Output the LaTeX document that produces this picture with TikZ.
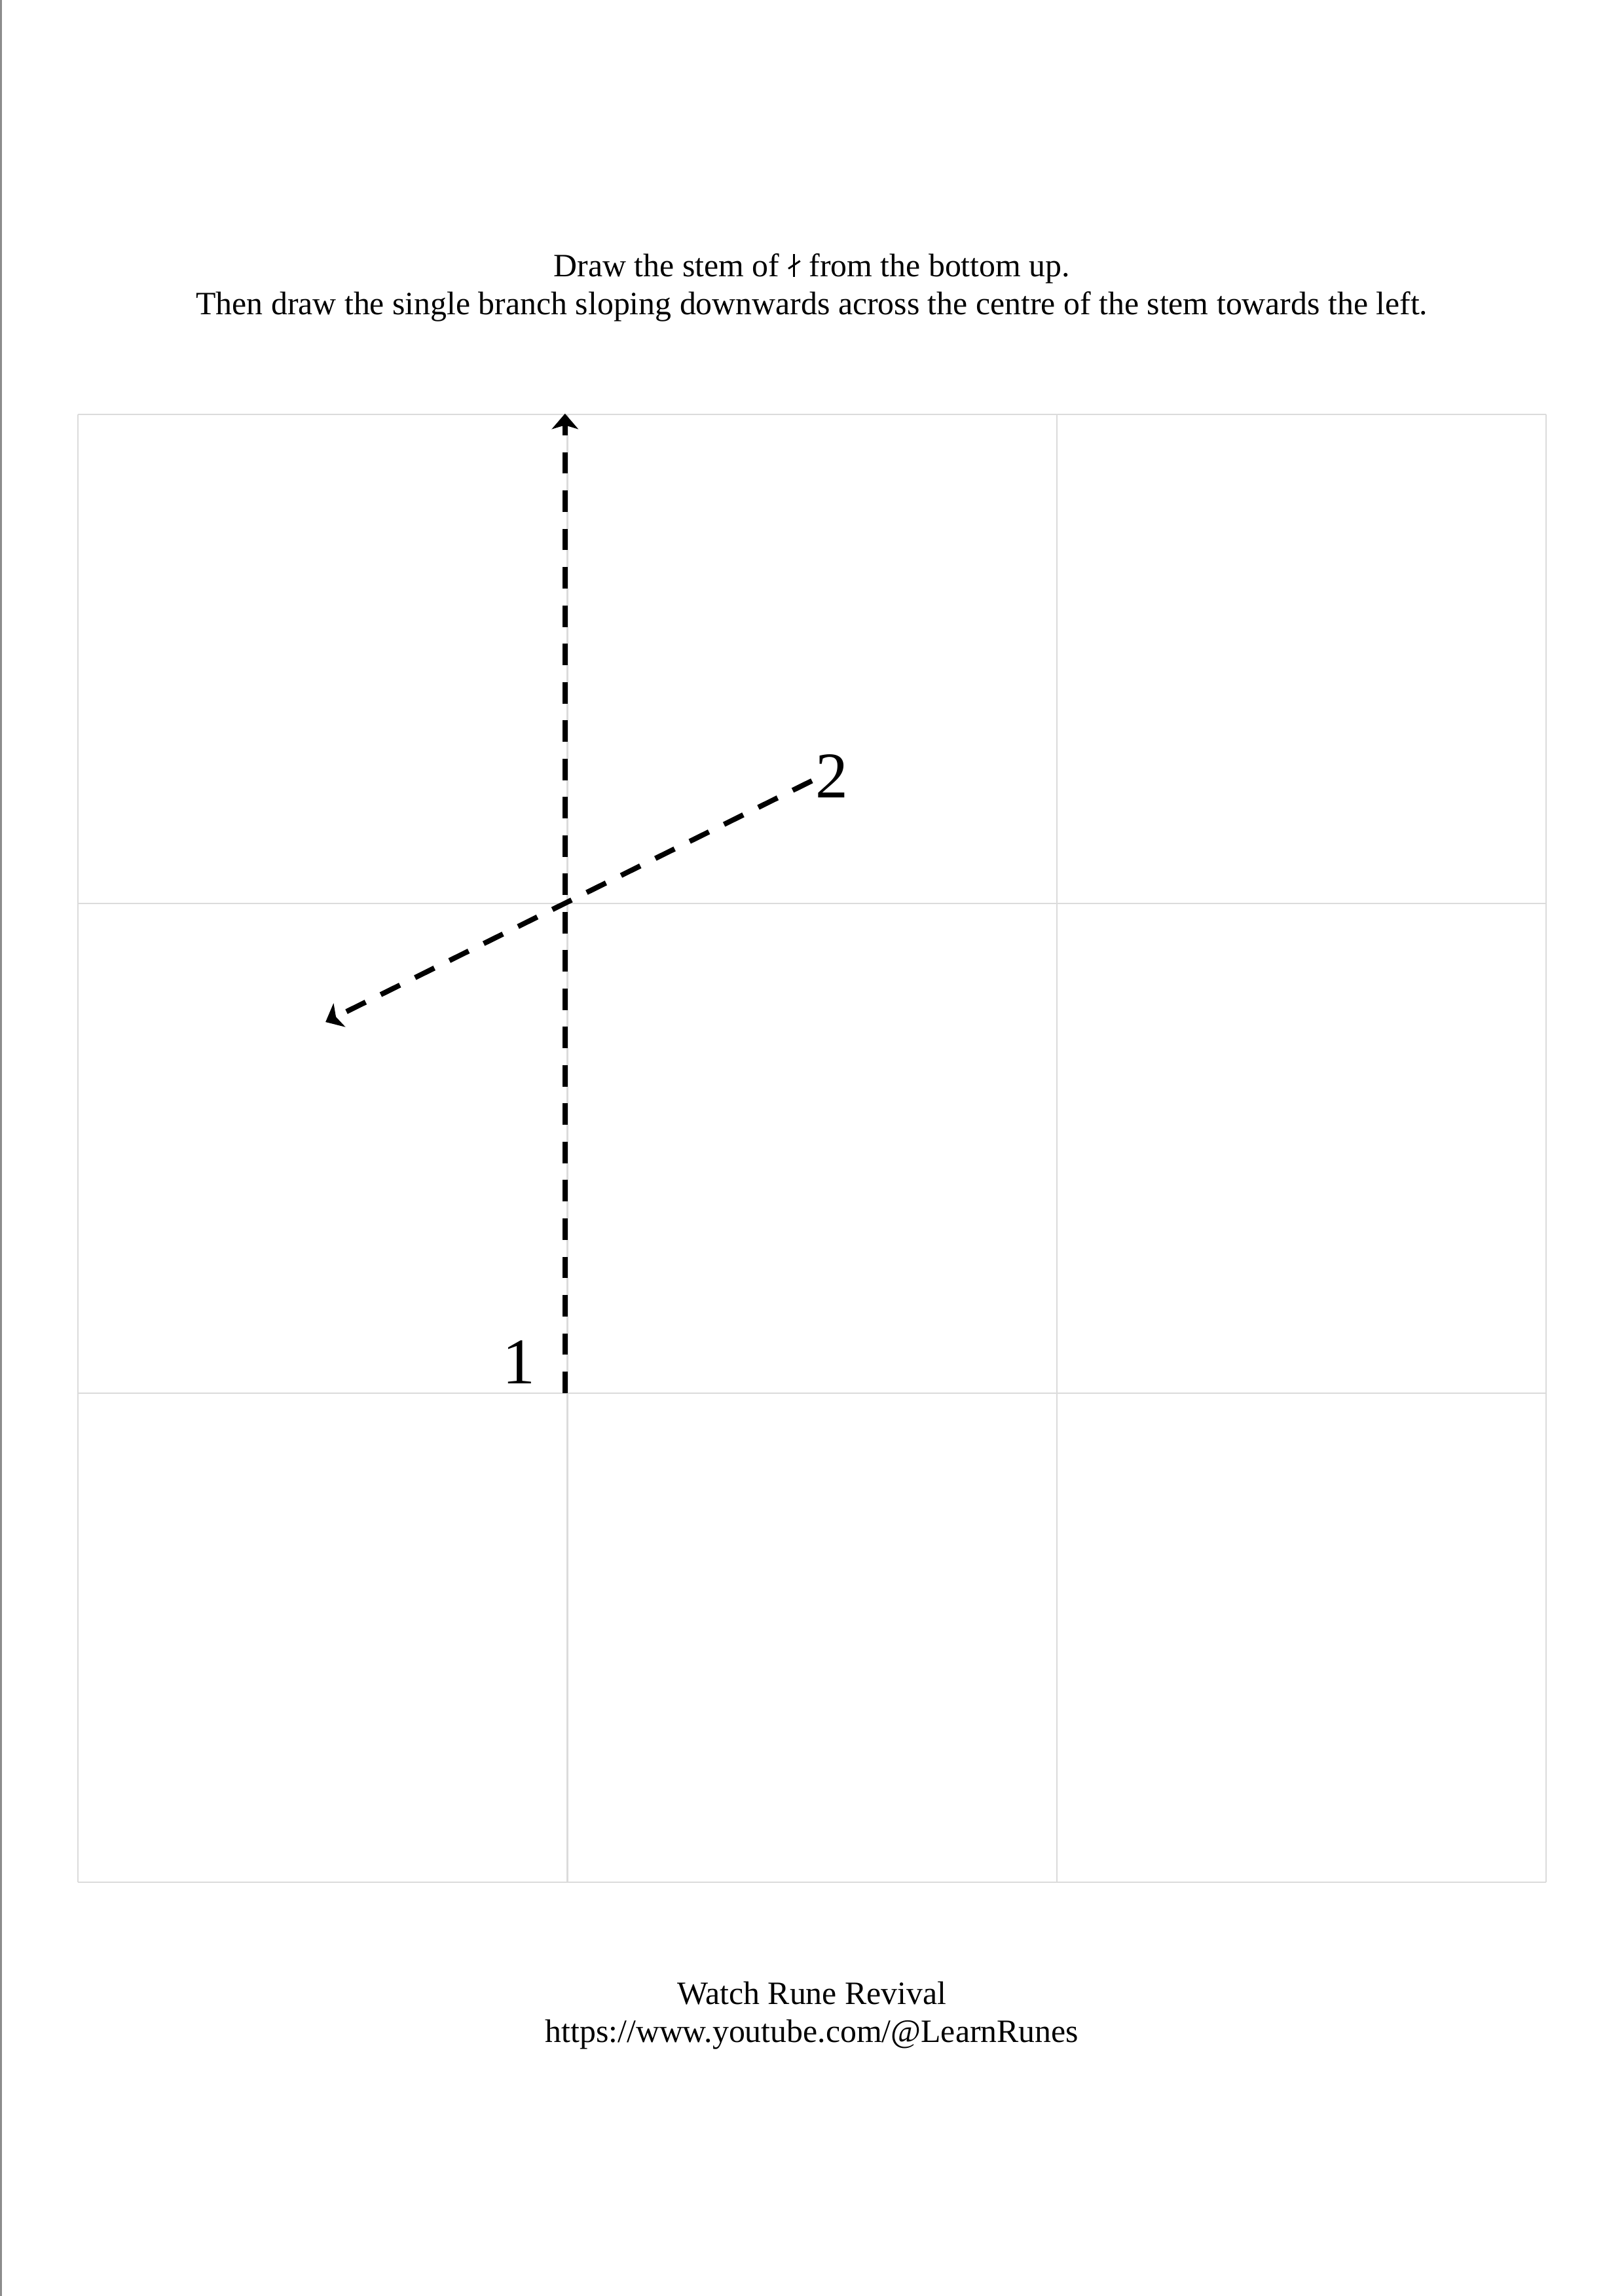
\documentclass[tikz,border=0pt]{standalone}
\usepackage{fontspec}
\setmainfont{Liberation Serif}
\usetikzlibrary{arrows.meta,positioning}
\newcommand{\shorthagall}{\tikz[baseline=0pt, line width=0.7pt]{\draw (0,0) -- (0,0.29); \draw (0.075,0.205) -- (-0.075,0.105);}}

\begin{document}
\begin{tikzpicture}[
    cell/.style={draw=black!14, line width=0.5pt},
    stroke/.style={line width=1.9pt, dash pattern=on 7.9pt off 6.2pt, -{Stealth[length=0.2cm, width=0.34cm, inset=0.05cm]}},
    num/.style={font=\fontsize{24}{28}\selectfont, inner sep=0pt},
    txt/.style={font=\fontsize{12}{14}\selectfont, anchor=base, inner sep=0pt}
]
\useasboundingbox (0,0) rectangle (21,-29.7);
\draw[black!45, line width=0.8pt] (0.01,0) -- (0.01,-29.7);

% instructions
\node[txt] (line1) at (10.5,-3.58) {Draw the stem of \shorthagall{} from the bottom up.};
\node[txt] (line2) at (10.5,-4.07) {Then draw the single branch sloping downwards across the centre of the stem towards the left.};

% 3x3 grid
\foreach \i in {0,1,2,3} {
  \draw[cell] ({1.008+6.33*\i},-5.36) -- ++(0,-18.99);
  \draw[cell] (1.008,{-5.36-6.33*\i}) -- ++(18.99,0);
}

% strokes
\coordinate (stembot) at (7.307,-18.02);
\coordinate (stemtop) at (7.307,-5.35);
\coordinate (branchtop) at (10.50,-10.10);
\coordinate (branchend) at (4.21,-13.22);
\draw[stroke] (stembot) -- (stemtop);
\draw[stroke] (branchtop) -- (branchend);
\node[num] (one) at (6.71,-17.62) {1};
\node[num] (two) at (10.76,-10.04) {2};

% footer
\node[txt] (watch) at (10.5,-25.93) {Watch Rune Revival};
\node[txt] (link) at (10.5,-26.42) {https://www.youtube.com/@LearnRunes};
\end{tikzpicture}
\end{document}
